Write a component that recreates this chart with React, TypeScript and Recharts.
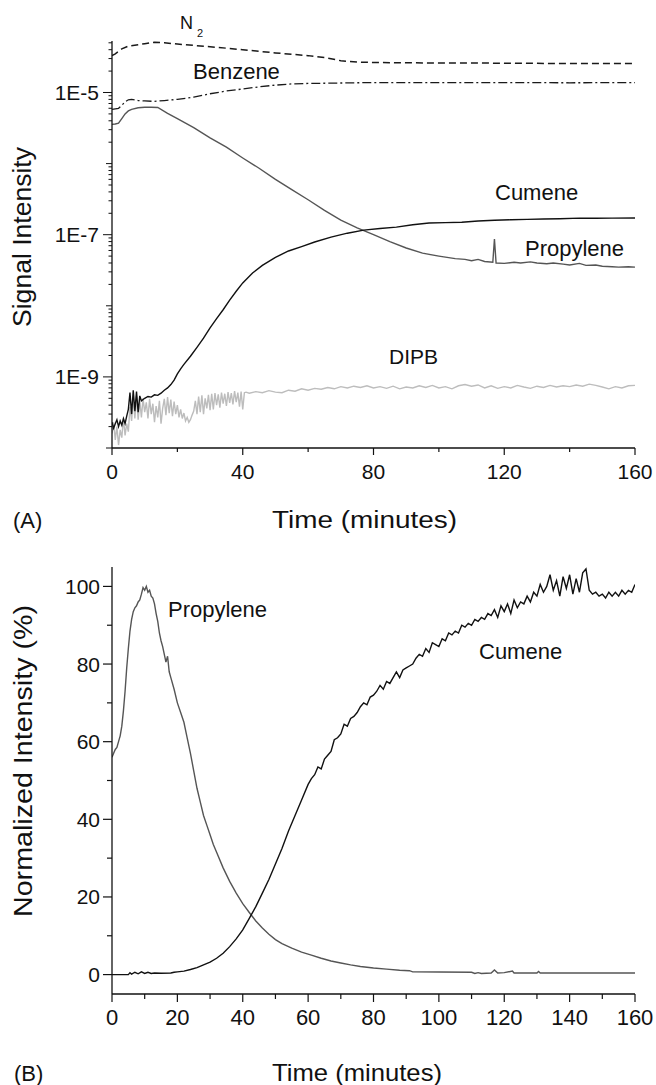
import React from 'react';
import { LineChart, Line, XAxis, YAxis } from 'recharts';

const FONT = '"Liberation Sans", Arial, Helvetica, sans-serif';
const INK = '#111';

// ---------------- Panel (A): signal intensity, log scale ----------------
const n2Time = [0, 1, 2, 3, 5, 8, 10, 13, 16, 20, 25, 30, 35, 40, 45, 50, 55, 60, 65, 70, 75, 80, 90, 100, 110, 120, 130, 140, 150, 160];
const n2Signal = [3.3e-5, 3.5e-5, 3.8e-5, 4.1e-5, 4.5e-5, 4.7e-5, 4.85e-5, 5.1e-5, 5.0e-5, 4.8e-5, 4.6e-5, 4.4e-5, 4.2e-5, 4.0e-5, 3.8e-5, 3.6e-5, 3.45e-5, 3.3e-5, 3.1e-5, 2.8e-5, 2.68e-5, 2.64e-5, 2.62e-5, 2.6e-5, 2.6e-5, 2.58e-5, 2.57e-5, 2.55e-5, 2.55e-5, 2.55e-5];

const benzeneTime = [0, 2, 3, 4, 5, 6, 8, 10, 13, 16, 20, 25, 30, 35, 40, 45, 50, 55, 60, 65, 70, 80, 100, 120, 140, 160];
const benzeneSignal = [5.8e-6, 6.0e-6, 6.6e-6, 7.4e-6, 7.9e-6, 8.0e-6, 7.7e-6, 7.6e-6, 7.5e-6, 7.7e-6, 8.0e-6, 8.6e-6, 9.6e-6, 1.05e-5, 1.12e-5, 1.2e-5, 1.27e-5, 1.32e-5, 1.34e-5, 1.35e-5, 1.36e-5, 1.38e-5, 1.38e-5, 1.38e-5, 1.37e-5, 1.38e-5];

const propyleneATime = [0, 1, 2, 3, 4, 5, 6, 8, 10, 12, 14, 17, 20, 25, 30, 35, 40, 45, 50, 55, 60, 65, 70, 75, 80, 85, 90, 95, 100, 105, 108, 110, 112, 114, 116.5, 117, 117.5, 120, 123, 125, 128, 130, 133, 135, 138, 140, 143, 145, 148, 150, 153, 155, 158, 160];
const propyleneASignal = [3.56e-6, 3.6e-6, 3.7e-6, 4.3e-6, 5.0e-6, 5.5e-6, 5.8e-6, 6.1e-6, 6.2e-6, 6.2e-6, 6.15e-6, 5.1e-6, 4.3e-6, 3.2e-6, 2.3e-6, 1.7e-6, 1.2e-6, 8.6e-7, 6.0e-7, 4.3e-7, 3.1e-7, 2.2e-7, 1.6e-7, 1.25e-7, 1.0e-7, 8.0e-8, 6.5e-8, 5.5e-8, 5.0e-8, 4.6e-8, 4.5e-8, 4.3e-8, 4.5e-8, 4.2e-8, 4.1e-8, 8.7e-8, 4.0e-8, 3.95e-8, 4.1e-8, 4.0e-8, 4.15e-8, 4.0e-8, 3.9e-8, 4.0e-8, 3.85e-8, 3.75e-8, 3.95e-8, 3.7e-8, 3.75e-8, 3.6e-8, 3.55e-8, 3.5e-8, 3.55e-8, 3.5e-8];

const cumeneATime = [0, 0.5, 1, 1.5, 2, 2.5, 3, 3.5, 4, 4.5, 5, 5.5, 6, 6.5, 7, 7.5, 8, 8.5, 9, 10, 11, 12, 13, 14, 15, 16, 17, 18, 19, 20, 21, 22, 24, 26, 28, 30, 32, 34, 36, 38, 40, 43, 46, 50, 54, 58, 62, 67, 72, 77, 82, 87, 92, 97, 102, 107, 112, 117, 122, 127, 132, 137, 143, 148, 153, 160];
const cumeneASignal = [2.3e-10, 1.9e-10, 2.2e-10, 2.5e-10, 2.0e-10, 2.4e-10, 2.1e-10, 2.6e-10, 2.2e-10, 2.8e-10, 3.5e-10, 6.0e-10, 3.0e-10, 6.5e-10, 3.3e-10, 6.2e-10, 3.2e-10, 5.4e-10, 4.6e-10, 5.0e-10, 5.3e-10, 5.2e-10, 5.6e-10, 5.5e-10, 5.9e-10, 6.5e-10, 7.0e-10, 7.8e-10, 9.0e-10, 1.1e-9, 1.3e-9, 1.5e-9, 1.95e-9, 2.6e-9, 3.5e-9, 4.9e-9, 6.6e-9, 8.8e-9, 1.2e-8, 1.6e-8, 2.1e-8, 2.9e-8, 3.7e-8, 4.8e-8, 5.9e-8, 6.8e-8, 7.9e-8, 9.25e-8, 1.05e-7, 1.16e-7, 1.22e-7, 1.28e-7, 1.38e-7, 1.46e-7, 1.48e-7, 1.5e-7, 1.56e-7, 1.6e-7, 1.62e-7, 1.64e-7, 1.66e-7, 1.68e-7, 1.71e-7, 1.7e-7, 1.71e-7, 1.72e-7];

const dipbTime = [0, 0.5, 1, 1.5, 2, 2.5, 3, 3.5, 4, 4.5, 5, 5.5, 6, 6.5, 7, 7.5, 8, 8.5, 9, 9.5, 10, 10.5, 11, 11.5, 12, 12.5, 13, 13.5, 14, 14.5, 15, 15.5, 16, 16.5, 17, 17.5, 18, 18.5, 19, 19.5, 20, 20.5, 21, 21.5, 22, 22.5, 23, 23.5, 24, 24.5, 25, 25.5, 26, 26.5, 27, 27.5, 28, 28.5, 29, 29.5, 30, 30.5, 31, 31.5, 32, 32.5, 33, 33.5, 34, 34.5, 35, 35.5, 36, 36.5, 37, 37.5, 38, 38.5, 39, 39.5, 40, 40.5, 41, 42, 44, 46, 48, 50, 52, 54, 56, 58, 60, 62, 64, 66, 68, 70, 72, 74, 76, 78, 80, 82, 84, 86, 88, 90, 92, 94, 96, 98, 100, 102, 104, 106, 108, 110, 112, 114, 116, 118, 120, 122, 124, 126, 128, 130, 132, 134, 136, 138, 140, 142, 144, 146, 148, 150, 152, 154, 156, 158, 160];
const dipbSignal = [1.6e-10, 2.3e-10, 1.3e-10, 2.0e-10, 1.1e-10, 1.8e-10, 1.4e-10, 2.6e-10, 1.5e-10, 2.2e-10, 1.7e-10, 3.8e-10, 2.4e-10, 5.0e-10, 2.6e-10, 5.4e-10, 2.5e-10, 4.6e-10, 2.7e-10, 5.0e-10, 3.2e-10, 4.4e-10, 2.6e-10, 4.9e-10, 3.0e-10, 4.2e-10, 2.3e-10, 3.9e-10, 2.7e-10, 4.6e-10, 2.2e-10, 3.6e-10, 4.9e-10, 2.9e-10, 5.2e-10, 3.1e-10, 4.8e-10, 2.8e-10, 4.5e-10, 3.0e-10, 4.0e-10, 2.7e-10, 3.5e-10, 2.6e-10, 3.1e-10, 2.4e-10, 2.7e-10, 2.3e-10, 2.5e-10, 2.9e-10, 3.3e-10, 4.6e-10, 3.0e-10, 5.3e-10, 3.2e-10, 5.5e-10, 3.0e-10, 5.0e-10, 3.6e-10, 5.6e-10, 3.4e-10, 5.8e-10, 3.5e-10, 5.9e-10, 4.0e-10, 5.7e-10, 3.7e-10, 6.0e-10, 4.2e-10, 5.8e-10, 3.9e-10, 6.1e-10, 4.3e-10, 5.9e-10, 4.1e-10, 6.3e-10, 4.4e-10, 6.0e-10, 3.8e-10, 6.2e-10, 3.5e-10, 6.0e-10, 6.1e-10, 5.9e-10, 6.2e-10, 6.0e-10, 6.4e-10, 6.1e-10, 6.0e-10, 6.5e-10, 6.3e-10, 6.8e-10, 6.5e-10, 6.9e-10, 6.7e-10, 7.1e-10, 6.8e-10, 7.3e-10, 7.0e-10, 7.4e-10, 7.1e-10, 7.5e-10, 7.0e-10, 7.3e-10, 6.9e-10, 7.4e-10, 6.8e-10, 7.2e-10, 7.0e-10, 7.5e-10, 7.1e-10, 7.6e-10, 7.0e-10, 7.3e-10, 6.8e-10, 7.5e-10, 7.8e-10, 7.4e-10, 7.7e-10, 7.0e-10, 7.5e-10, 6.9e-10, 7.3e-10, 7.0e-10, 7.6e-10, 7.2e-10, 6.9e-10, 7.4e-10, 7.1e-10, 7.6e-10, 7.2e-10, 7.5e-10, 7.3e-10, 7.7e-10, 7.4e-10, 7.9e-10, 7.6e-10, 7.2e-10, 6.8e-10, 7.3e-10, 7.0e-10, 7.5e-10, 7.6e-10];

const xTicksA = [0, 20, 40, 60, 80, 100, 120, 140, 160];
const xLabelsA = [0, 40, 80, 120, 160];
const yLabelExpA = [-9, -7, -5];
const yLabelsA = ['1E-9', '1E-7', '1E-5'];

// ---------------- Panel (B): normalized intensity ----------------
const propyleneBTime = [0, 0.5, 1, 1.5, 2, 2.5, 3, 3.5, 4, 4.5, 5, 5.5, 6, 6.5, 7, 7.5, 8, 8.5, 9, 9.5, 10, 10.5, 11, 11.5, 12, 12.5, 13, 13.5, 14, 14.5, 15, 15.5, 16, 16.5, 17, 17.5, 18, 19, 20, 21, 22, 23, 24, 25, 26, 27, 28, 29, 30, 31, 32, 34, 36, 38, 40, 42, 44, 46, 48, 50, 52, 55, 58, 61, 64, 67, 70, 73, 76, 80, 84, 88, 91, 92, 100, 110, 111, 112, 113, 116, 117, 118, 120, 122.5, 123, 130, 130.5, 131, 140, 150, 160];
const propyleneBValue = [56, 57, 58, 58.5, 60, 61.5, 64, 68, 73, 79, 84, 88.5, 91.5, 93.5, 94.5, 95, 96, 96.5, 98, 99.7, 99, 100, 98.5, 99, 97.5, 97, 95.5, 93, 91, 88, 86, 84.5, 82.5, 80.5, 82, 78, 76.5, 73.5, 70, 67.5, 65, 61, 57, 52.5, 48, 44.5, 41, 38.5, 36, 33.5, 31.5, 27.5, 24, 21, 18.3, 16, 13.8, 12, 10.4, 9, 8, 6.8, 5.8, 5, 4.2, 3.5, 3, 2.5, 2.1, 1.7, 1.4, 1.1, 1.0, 0.7, 0.65, 0.6, 0.3, 0.5, 0.3, 0.4, 1.2, 0.4, 0.5, 0.9, 0.4, 0.4, 0.8, 0.4, 0.4, 0.4, 0.4];

const cumeneBTime = [0, 5, 5.5, 6, 7, 8, 9, 10, 11, 12, 13, 15, 18, 19, 20, 22, 24, 26, 28, 30, 32, 34, 36, 38, 40, 42, 44, 46, 48, 50, 52, 54, 56, 58, 60, 61, 62, 63, 64, 65, 66, 67, 68, 69, 70, 71, 72, 73, 74, 75, 76, 77, 78, 79, 80, 81, 82, 83, 84, 85, 86, 87, 88, 89, 90, 91, 92, 93, 94, 95, 96, 97, 98, 99, 100, 101, 102, 103, 104, 105, 106, 107, 108, 109, 110, 111, 112, 113, 114, 115, 116, 117, 118, 119, 120, 121, 122, 123, 124, 125, 126, 127, 128, 129, 130, 131, 132, 133, 134, 135, 136, 137, 138, 139, 140, 141, 142, 143, 144, 145, 146, 147, 148, 149, 150, 151, 152, 153, 154, 155, 156, 157, 158, 159, 160];
const cumeneBValue = [0, 0, 0.5, 0.1, 0.6, 0.2, 0.7, 0.3, 0.6, 0.3, 0.4, 0.35, 0.4, 0.6, 0.7, 0.9, 1.3, 1.8, 2.5, 3.2, 4.2, 5.5, 7.2, 9.2, 11.5, 14.5, 17.5, 21, 24.5, 28.5, 32.5, 37, 41, 45, 49, 50.5, 51.5, 53.5, 53, 55.5, 56.5, 57.5, 60.5, 61, 62, 64.5, 64, 66, 66.5, 67.5, 69, 70, 69.5, 71.5, 72, 73, 74.5, 73.5, 75.5, 75, 76.5, 78, 76.5, 78.5, 79, 79.5, 80, 81.5, 82.5, 82, 84, 83, 85.5, 85, 84.5, 86.5, 86, 88, 87.5, 88.5, 88, 90, 89.5, 90.5, 90, 91.5, 91, 92, 91.5, 93, 92.5, 94, 92, 95, 93.5, 95.5, 93, 96.5, 94.5, 96, 95.5, 97.5, 96, 98.5, 97.5, 100.5, 98.5, 100, 103, 99, 101.5, 97.5, 102.5, 99.5, 103, 98, 102, 98.5, 103.5, 104.5, 99, 98, 98.5, 97.5, 98, 97, 98.5, 97.5, 98.5, 97.5, 99, 98, 99, 98.5, 100.5];

const xTicksB = [0, 10, 20, 30, 40, 50, 60, 70, 80, 90, 100, 110, 120, 130, 140, 150, 160];
const xLabelsB = [0, 20, 40, 60, 80, 100, 120, 140, 160];
const yTicksB = [0, 10, 20, 30, 40, 50, 60, 70, 80, 90, 100];
const yLabelsB = [0, 20, 40, 60, 80, 100];

const pts = (ts: number[], vs: number[]) => ts.map((t, i) => ({ t, v: vs[i] }));

const n2Data = pts(n2Time, n2Signal);
const benzeneData = pts(benzeneTime, benzeneSignal);
const propyleneAData = pts(propyleneATime, propyleneASignal);
const cumeneAData = pts(cumeneATime, cumeneASignal);
const dipbData = pts(dipbTime, dipbSignal);
const propyleneBData = pts(propyleneBTime, propyleneBValue);
const cumeneBData = pts(cumeneBTime, cumeneBValue);

// log-axis tick positions (decades plus 2..9 minors) for panel A
const yTicksA: number[] = [];
for (let e = -10; e <= -5; e++) {
  for (let m = 1; m <= 9; m++) {
    const v = Number((m * Math.pow(10, e)).toPrecision(3));
    if (v <= 5.2e-5) yTicksA.push(v);
  }
}

const XTickA = (props: any) => {
  const { x, y, payload } = props;
  const major = xLabelsA.includes(payload.value);
  return (
    <g>
      <line x1={x} x2={x} y1={y} y2={y + (major ? 7 : 4)} stroke={INK} strokeWidth={1.2} />
      {major && (
        <text x={x} y={y + 31} textAnchor="middle" fontSize={21} fontFamily={FONT} fill={INK}>
          {payload.value}
        </text>
      )}
    </g>
  );
};

const YTickA = (props: any) => {
  const { x, y, payload } = props;
  const lg = Math.log10(payload.value);
  const exp = Math.round(lg);
  const decade = Math.abs(lg - exp) < 1e-6;
  const idx = decade ? yLabelExpA.indexOf(exp) : -1;
  const len = idx >= 0 ? 9 : decade ? 6 : 3.5;
  return (
    <g>
      <line x1={x} x2={x - len} y1={y} y2={y} stroke={INK} strokeWidth={1} />
      {idx >= 0 && (
        <text x={x - 13} y={y + 7.5} textAnchor="end" fontSize={21} fontFamily={FONT} fill={INK}>
          {yLabelsA[idx]}
        </text>
      )}
    </g>
  );
};

const XTickB = (props: any) => {
  const { x, y, payload } = props;
  const major = xLabelsB.includes(payload.value);
  return (
    <g>
      <line x1={x} x2={x} y1={y} y2={y + (major ? 8 : 5)} stroke={INK} strokeWidth={1.2} />
      {major && (
        <text x={x} y={y + 31} textAnchor="middle" fontSize={22} fontFamily={FONT} fill={INK}>
          {payload.value}
        </text>
      )}
    </g>
  );
};

const YTickB = (props: any) => {
  const { x, y, payload } = props;
  const major = yLabelsB.includes(payload.value);
  return (
    <g>
      <line x1={x} x2={x - (major ? 9 : 5)} y1={y} y2={y} stroke={INK} strokeWidth={1.2} />
      {major && (
        <text x={x - 12} y={y + 7.5} textAnchor="end" fontSize={21} fontFamily={FONT} fill={INK}>
          {payload.value}
        </text>
      )}
    </g>
  );
};

const txt = (s: string, x: number, y: number, size: number, extra: any = {}) => (
  <text x={x} y={y} fontSize={size} fontFamily={FONT} fill={INK} {...extra}>
    {s}
  </text>
);

export default function App() {
  return (
    <div style={{ position: 'absolute', left: 0, top: 0, width: 656, height: 1085, background: '#fff' }}>
      <div style={{ position: 'absolute', left: 0, top: 0 }}>
        <LineChart width={656} height={500} margin={{ top: 41, right: 21, bottom: 22, left: 12 }}>
          <XAxis type="number" dataKey="t" domain={[0, 160]} ticks={xTicksA} interval={0} allowDataOverflow height={30}
            tickSize={0} tickMargin={0} tickLine={false} tick={XTickA} axisLine={{ stroke: INK, strokeWidth: 1.3 }} />
          <YAxis type="number" scale="log" domain={[1e-10, 5.3e-5]} ticks={yTicksA} interval={0} allowDataOverflow width={100}
            tickSize={0} tickMargin={0} tickLine={false} tick={YTickA} axisLine={{ stroke: INK, strokeWidth: 1.3 }} />
          <Line data={dipbData} dataKey="v" type="linear" stroke="#bdbdbd" strokeWidth={1.4} dot={false} isAnimationActive={false} />
          <Line data={n2Data} dataKey="v" type="linear" stroke="#1a1a1a" strokeWidth={1.5} strokeDasharray="7 4" dot={false} isAnimationActive={false} />
          <Line data={benzeneData} dataKey="v" type="linear" stroke="#1a1a1a" strokeWidth={1.3} strokeDasharray="9 3 2 3" dot={false} isAnimationActive={false} />
          <Line data={propyleneAData} dataKey="v" type="linear" stroke="#555" strokeWidth={1.4} dot={false} isAnimationActive={false} />
          <Line data={cumeneAData} dataKey="v" type="linear" stroke="#111" strokeWidth={1.4} dot={false} isAnimationActive={false} />
        </LineChart>
      </div>
      <div style={{ position: 'absolute', left: 0, top: 540 }}>
        <LineChart width={656} height={500} margin={{ top: 27, right: 21, bottom: 16, left: 12 }}>
          <XAxis type="number" dataKey="t" domain={[0, 160]} ticks={xTicksB} interval={0} allowDataOverflow height={30}
            tickSize={0} tickMargin={0} tickLine={false} tick={XTickB} axisLine={{ stroke: INK, strokeWidth: 1.3 }} />
          <YAxis type="number" domain={[-5, 105]} ticks={yTicksB} interval={0} allowDataOverflow width={100}
            tickSize={0} tickMargin={0} tickLine={false} tick={YTickB} axisLine={{ stroke: INK, strokeWidth: 1.3 }} />
          <Line data={propyleneBData} dataKey="v" type="linear" stroke="#555" strokeWidth={1.4} dot={false} isAnimationActive={false} />
          <Line data={cumeneBData} dataKey="v" type="linear" stroke="#111" strokeWidth={1.4} dot={false} isAnimationActive={false} />
        </LineChart>
      </div>
      <svg width={656} height={1085} style={{ position: 'absolute', left: 0, top: 0, pointerEvents: 'none' }}>
        {txt('N', 180, 29, 18)}
        {txt('2', 197, 37, 11)}
        {txt('Benzene', 193, 79, 22)}
        {txt('Cumene', 495, 200, 22)}
        {txt('Propylene', 525, 256, 22)}
        {txt('DIPB', 389, 364, 21)}
        <text transform="translate(31,237) rotate(-90)" textAnchor="middle" fontSize={25} fontFamily={FONT} fill={INK} textLength={180} lengthAdjust="spacingAndGlyphs">
          Signal Intensity
        </text>
        {txt('(A)', 13, 528, 22)}
        {txt('Time (minutes)', 272, 528, 23, { textLength: 185, lengthAdjust: 'spacingAndGlyphs' })}
        {txt('Propylene', 168, 617, 22)}
        {txt('Cumene', 479, 659, 22)}
        <text transform="translate(32,761) rotate(-90)" textAnchor="middle" fontSize={26} fontFamily={FONT} fill={INK} textLength={312} lengthAdjust="spacingAndGlyphs">
          Normalized Intensity  (%)
        </text>
        {txt('(B)', 14, 1081, 22)}
        {txt('Time (minutes)', 272, 1081, 24, { textLength: 170, lengthAdjust: 'spacingAndGlyphs' })}
      </svg>
    </div>
  );
}
